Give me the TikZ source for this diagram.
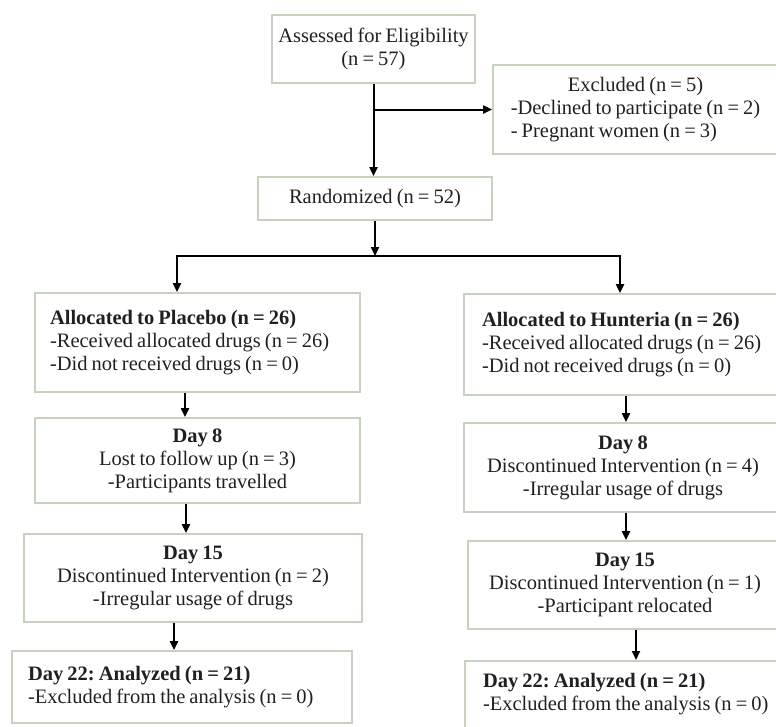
\documentclass[tikz,border=0pt]{standalone}
\usepackage{fontspec}
\setmainfont{Liberation Serif}[WordSpace=0.8]
\frenchspacing
\usetikzlibrary{arrows.meta}
\definecolor{boxline}{RGB}{196,210,190}
\definecolor{ink}{RGB}{32,32,32}
\tikzset{
  boxed/.style={draw=boxline, line width=1.8pt, text=ink, inner sep=0pt, font=\fontsize{20.5}{23}\selectfont},
  link/.style={line width=2pt, -{Triangle[length=9pt,width=8pt]}}
}
\begin{document}
\begin{tikzpicture}[x=1pt,y=-1pt]
\useasboundingbox (0,0) rectangle (776,726);

\node[boxed, minimum width=203pt, minimum height=68pt, align=center] (assess) at (373.5,49) {Assessed for Eligibility\\(n = 57)};
\node[boxed, minimum width=285pt, minimum height=89pt] (excl) at (635.5,109.5) {\begin{tabular}{@{}l@{}}\multicolumn{1}{@{}c@{}}{Excluded (n = 5)}\\-Declined to participate (n = 2)\\- Pregnant women (n = 3)\end{tabular}};
\node[boxed, minimum width=234pt, minimum height=43pt] (rand) at (375,198.5) {Randomized (n = 52)};
\coordinate (split) at (375,256);

\node[boxed, minimum width=325pt, minimum height=99pt, text width=295pt, align=flush left] (alloc1) at (197.5,342.5) {\textbf{Allocated to Placebo (n = 26)}\\-Received allocated drugs (n = 26)\\-Did not received drugs (n = 0)};
\node[boxed, minimum width=325pt, minimum height=85pt, align=center] (pday8) at (197.5,460.5) {\textbf{Day 8}\\Lost to follow up (n = 3)\\-Participants travelled};
\node[boxed, minimum width=338pt, minimum height=88pt, align=center] (pday15) at (193,578) {\textbf{Day 15}\\Discontinued Intervention (n = 2)\\-Irregular usage of drugs};
\node[boxed, minimum width=340pt, minimum height=72pt, text width=308pt, align=flush left] (pday22) at (182,687) {\textbf{Day 22: Analyzed (n = 21)}\\-Excluded from the analysis (n = 0)};

\node[boxed, minimum height=101pt, text width=300pt, inner xsep=18pt, align=flush left] (alloc2) at (632,344.5) {\textbf{Allocated to Hunteria (n = 26)}\\-Received allocated drugs (n = 26)\\-Did not received drugs (n = 0)};
\node[boxed, minimum width=318pt, minimum height=89pt, align=center] (hday8) at (623,467.5) {\textbf{Day 8}\\Discontinued Intervention (n = 4)\\-Irregular usage of drugs};
\node[boxed, minimum width=314pt, minimum height=88pt, align=center] (hday15) at (625,585) {\textbf{Day 15}\\Discontinued Intervention (n = 1)\\-Participant relocated};
\node[boxed, anchor=north, text width=300pt, inner xsep=18pt, inner ysep=12pt, text depth=40pt, align=flush left] (hday22) at (633,660) {\textbf{Day 22: Analyzed (n = 21)}\\-Excluded from the analysis (n = 0)};

\draw[link] (assess.south) -- (assess.south |- rand.north);
\draw[link] (assess.south |- excl.west) -- (excl.west);
\draw[link] (rand.south) -- (split);
\draw[link] (split) -| ([xshift=-20.5pt]alloc1.north);
\draw[link] (split) -| ([xshift=-12pt]alloc2.north);

\draw[link] ([xshift=-12.5pt]alloc1.south) -- ([xshift=-12.5pt]alloc1.south |- pday8.north);
\draw[link] ([xshift=-11.5pt]pday8.south) -- ([xshift=-11.5pt]pday8.south |- pday15.north);
\draw[link] ([xshift=-19pt]pday15.south) -- ([xshift=-19pt]pday15.south |- pday22.north);

\draw[link] ([xshift=-6pt]alloc2.south) -- ([xshift=-6pt]alloc2.south |- hday8.north);
\draw[link] ([xshift=3pt]hday8.south) -- ([xshift=3pt]hday8.south |- hday15.north);
\draw[link] ([xshift=11pt]hday15.south) -- ([xshift=11pt]hday15.south |- hday22.north);

\end{tikzpicture}
\end{document}
